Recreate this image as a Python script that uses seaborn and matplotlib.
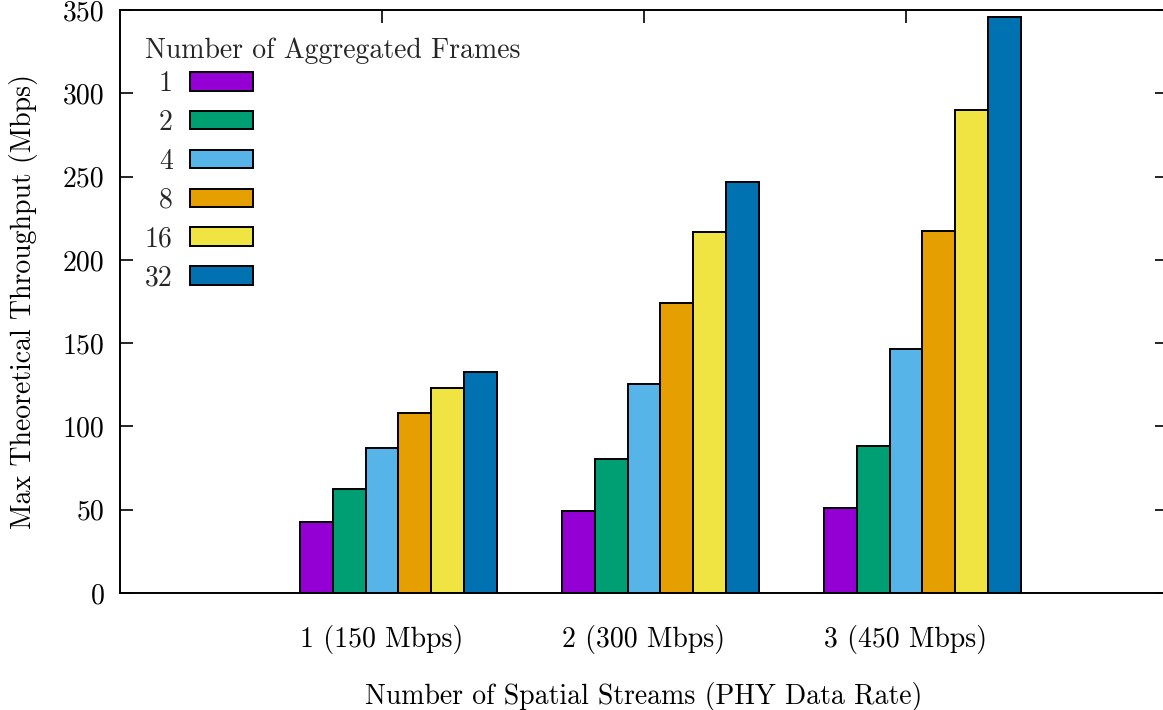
import matplotlib
matplotlib.use("Agg")
import matplotlib.pyplot as plt
import seaborn as sns
import pandas as pd

# ---- data ----
groups = ["1 (150 Mbps)", "2 (300 Mbps)", "3 (450 Mbps)"]
frames = ["1", "2", "4", "8", "16", "32"]
thr_1 = [42.6, 62.5, 87.2, 108.2, 123.3, 132.6]
thr_2 = [49.0, 80.6, 125.7, 174.3, 216.9, 246.9]
thr_3 = [50.8, 88.0, 146.5, 217.3, 290.0, 345.8]
colors = ["#9400D3", "#009E73", "#56B4E9", "#E69F00", "#F0E442", "#0072B2"]
yticks = [0, 50, 100, 150, 200, 250, 300, 350]

rows = []
for g, vals in zip(groups, [thr_1, thr_2, thr_3]):
    for f, v in zip(frames, vals):
        rows.append({"group": g, "frames": f, "thr": v})
df = pd.DataFrame(rows)

sns.set_theme(style="white")
plt.rcParams["font.family"] = ["cmr10", "DejaVu Serif"]
plt.rcParams["axes.formatter.use_mathtext"] = True
plt.rcParams["mathtext.fontset"] = "cm"

FS = 20
W, H = 1163, 710
fig = plt.figure(figsize=(W / 100, H / 100), dpi=100)
ax = fig.add_axes([120 / W, 1 - 593 / H, (1168 - 120) / W, (593 - 10) / H])

sns.barplot(data=df, x="group", y="thr", hue="frames", order=groups,
            hue_order=frames, palette=colors, width=0.75, gap=0,
            edgecolor="black", linewidth=1.4, saturation=1, ax=ax,
            errorbar=None)

nb = len(frames)
bw = 0.75 / nb
ax.set_xlim(-1 - bw / 2, 3 - bw / 2)
ax.set_xticks([i - bw / 2 for i in range(len(groups))])
ax.set_xticklabels(groups)
ax.set_ylim(0, 350)
ax.set_yticks(yticks)
ax.set_yticklabels([str(t) for t in yticks])

for sp in ax.spines.values():
    sp.set_visible(True)
    sp.set_linewidth(1.4)
    sp.set_color("black")

ax.tick_params(axis="both", which="major", direction="in", length=9.5,
               width=1.2, color="black", labelsize=FS, labelcolor="black",
               top=True, right=True, bottom=True, left=True)
ax.tick_params(axis="y", pad=11)
ax.tick_params(axis="x", pad=23)

ax.set_xlabel("Number of Spatial Streams (PHY Data Rate)", fontsize=FS,
              labelpad=20, color="black")
ax.set_ylabel("Max Theoretical Throughput (Mbps)", fontsize=FS,
              labelpad=18, color="black")

handles, labels = ax.get_legend_handles_labels()
if ax.get_legend() is not None:
    ax.get_legend().remove()
leg = fig.legend(handles, labels, title="Number of Aggregated Frames",
                 loc="upper left", bbox_to_anchor=(145 / W, 1 - 38 / H),
                 frameon=False, fontsize=FS, title_fontsize=FS,
                 markerfirst=False, alignment="left", borderpad=0,
                 borderaxespad=0, handlelength=2.3, handleheight=0.65,
                 handletextpad=0.6, labelspacing=0.45)
leg._legend_box.sep = 4.5
for h in leg.legend_handles:
    h.set_edgecolor("black")
    h.set_linewidth(1.4)

fig.savefig("out.png", dpi=100)
